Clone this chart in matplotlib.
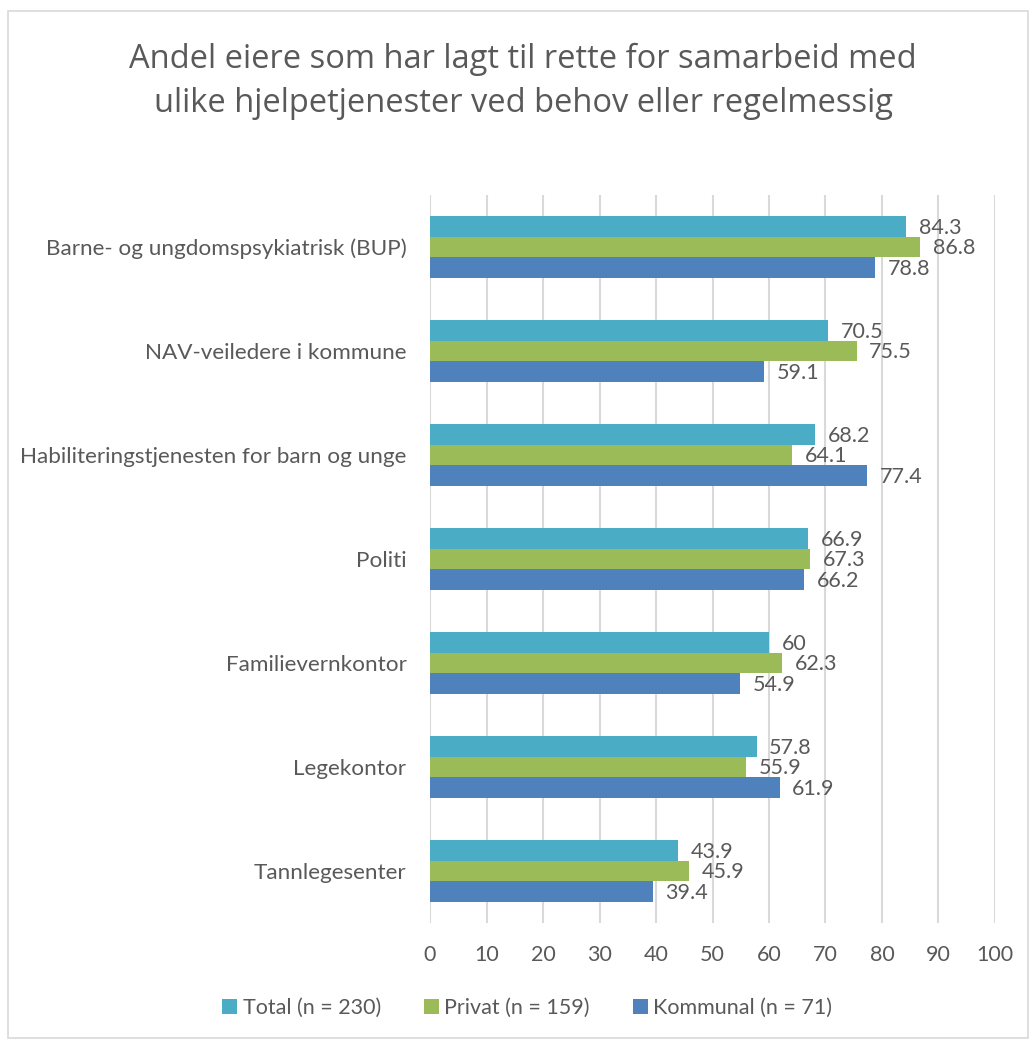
import numpy as np
import matplotlib
matplotlib.use("Agg")
import matplotlib.pyplot as plt
from matplotlib.patches import Rectangle

# data
categories = ["Barne- og ungdomspsykiatrisk (BUP)", "NAV-veiledere i kommune",
              "Habiliteringstjenesten for barn og unge", "Politi",
              "Familievernkontor", "Legekontor", "Tannlegesenter"]
total = [84.3, 70.5, 68.2, 66.9, 60, 57.8, 43.9]
privat = [86.8, 75.5, 64.1, 67.3, 62.3, 55.9, 45.9]
kommunal = [78.8, 59.1, 77.4, 66.2, 54.9, 61.9, 39.4]
series_names = ["Total (n = 230)", "Privat (n = 159)", "Kommunal (n = 71)"]
colors = ["#4BACC6", "#9BBB59", "#4F81BD"]
title = ("Andel eiere som har lagt til rette for samarbeid med\n"
         "ulike hjelpetjenester ved behov eller regelmessig")

TXT = "#595959"
plt.rcParams["font.family"] = ["Lato", "DejaVu Sans"]

fig = plt.figure(figsize=(10.30, 10.39), dpi=100)
ax = fig.add_axes([0.4175, 0.1116, 0.5485, 0.7007])

# chart border
fig.patches.append(Rectangle((8 / 1030, 1 / 1039), 1020 / 1030, 1027 / 1039,
                             transform=fig.transFigure, fill=False,
                             edgecolor="#D9D9D9", lw=1.2))

y = np.arange(len(categories))
h = 0.2
for i, (vals, name, c) in enumerate(zip([total, privat, kommunal], series_names, colors)):
    pos = y + (i - 1) * h
    bars = ax.barh(pos, vals, height=h, color=c, label=name, zorder=3)
    for b, v in zip(bars, vals):
        ax.annotate(f"{v:g}", (v, b.get_y() + h / 2), xytext=(9, -1),
                    textcoords="offset points", va="center", ha="left",
                    fontsize=15.5, color=TXT, zorder=4)

ax.set_ylim(len(categories) - 0.5, -0.5)
ax.set_xlim(0, 100)
ax.set_xticks(np.arange(0, 101, 10))
ax.set_yticks(y)
ax.set_yticklabels(categories, fontsize=16.2)
ax.tick_params(axis="both", length=0, labelsize=15.5, labelcolor=TXT)
ax.tick_params(axis="y", labelsize=16.2, pad=17)
ax.tick_params(axis="x", pad=16)
ax.grid(axis="x", color="#D9D9D9", lw=1.5, zorder=0)
for s in ax.spines.values():
    s.set_visible(False)

fig.text(0.508, 0.922, title, ha="center", va="center", fontsize=23.5,
         color=TXT, linespacing=1.45, family=["Open Sans", "DejaVu Sans"])

fig.legend(loc="center", bbox_to_anchor=(0.512, 0.030), ncol=3, frameon=False,
           fontsize=15.5, labelcolor=TXT, handlelength=0.7, handleheight=0.7,
           handletextpad=0.25, columnspacing=2.0)

fig.savefig("out.png", dpi=100)
